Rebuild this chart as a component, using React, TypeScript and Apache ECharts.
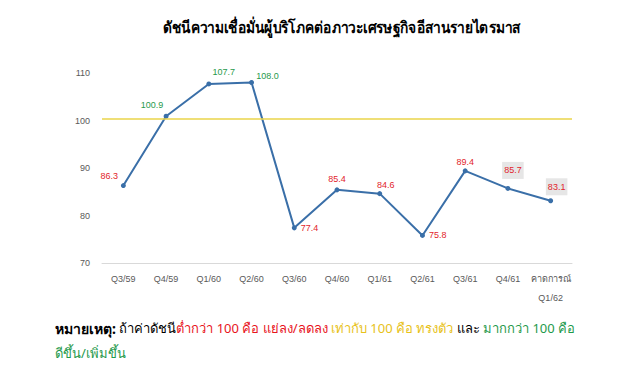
import React, { useEffect, useRef } from "react";
import * as echarts from "echarts";

const categories = ["Q3/59", "Q4/59", "Q1/60", "Q2/60", "Q3/60", "Q4/60", "Q1/61", "Q2/61", "Q3/61", "Q4/61", "คาดการณ์\nQ1/62"];
const values = [86.3, 100.9, 107.7, 108.0, 77.4, 85.4, 84.6, 75.8, 89.4, 85.7, 83.1];
const labelOffsets: [string, number, number][] = [
  ["top", -14, 1], ["top", -14, 0], ["top", 15, -1], ["top", 16, 4], ["right", 0, 0],
  ["top", 0, 0], ["top", 6, 2], ["right", 0, 0], ["top", 0, 2], ["top", 5, -3], ["top", 6, 1],
];
const boxed = [false, false, false, false, false, false, false, false, false, true, true];
const yTicks = [70, 80, 90, 100, 110];

export default function App() {
  const ref = useRef<HTMLDivElement>(null);
  useEffect(() => {
    const chart = echarts.init(ref.current!, null, { renderer: "svg" });
    const data = values.map((v, i) => ({
      value: v,
      label: {
        show: true,
        position: labelOffsets[i][0],
        offset: [labelOffsets[i][1], labelOffsets[i][2]],
        distance: 4,
        color: v > 100 ? "#1f9a4c" : "#e2242b",
        fontSize: 9,
        fontFamily: "Liberation Sans, Arial",
        formatter: v.toFixed(1),
        backgroundColor: boxed[i] ? "#e6e6e6" : "transparent",
        padding: boxed[i] ? [4, 2, 4, 2] : 0,
      },
    }));
    chart.setOption({
      animation: false,
      backgroundColor: "#ffffff",
      grid: { left: 102, right: 72, top: 73, bottom: 120 },
      xAxis: {
        type: "category",
        data: categories,
        boundaryGap: true,
        axisLine: { lineStyle: { color: "#d9d9d9" } },
        axisTick: { show: false },
        axisLabel: { interval: 0, color: "#595959", fontSize: 9, fontFamily: "Liberation Sans, Arial", margin: 6, lineHeight: 19 },
      },
      yAxis: {
        type: "value",
        min: yTicks[0],
        max: yTicks[yTicks.length - 1],
        interval: 10,
        axisLine: { show: false },
        axisTick: { show: false },
        splitLine: { show: false },
        axisLabel: { color: "#595959", fontSize: 9, fontFamily: "Liberation Sans, Arial", margin: 12 },
      },
      series: [
        {
          type: "line",
          data,
          symbol: "circle",
          symbolSize: 5,
          itemStyle: { color: "#3a6fa8" },
          lineStyle: { color: "#3a6fa8", width: 2 },
          markLine: {
            silent: true,
            symbol: "none",
            label: { show: false },
            lineStyle: { color: "#ead44a", type: "solid", width: 1.5 },
            data: [{ yAxis: 100.3 }],
          },
        },
      ],
      graphic: [
        {
          type: "text",
          x: 163,
          y: 19,
          scaleX: 0.86,
          style: {
            text: "ดัชนีความเชื่อมั่นผู้บริโภคต่อภาวะเศรษฐกิจอีสานรายไตรมาส",
            fill: "#000",
            font: "bold 16px 'Noto Sans', 'DejaVu Sans', sans-serif",
          },
        },
        {
          type: "text",
          x: 55,
          y: 321,
          style: {
            text: "{b|หมายเหตุ:} {k|ถ้าค่าดัชนี}{r|ต่ำกว่า 100 คือ แย่ลง/ลดลง} {y|เท่ากับ 100 คือ ทรงตัว} {k|และ} {g|มากกว่า 100 คือ}",
            rich: {
              b: { fill: "#000", fontSize: 14, fontWeight: "bold", fontFamily: "Noto Sans, sans-serif" },
              k: { fill: "#000", fontSize: 13, fontFamily: "Noto Sans, sans-serif" },
              r: { fill: "#e8141c", fontSize: 13, fontFamily: "Noto Sans, sans-serif" },
              y: { fill: "#e8c21a", fontSize: 13, fontFamily: "Noto Sans, sans-serif" },
              g: { fill: "#1f9a4c", fontSize: 13, fontFamily: "Noto Sans, sans-serif" },
            },
          },
        },
        {
          type: "text",
          x: 55,
          y: 346,
          style: {
            text: "ดีขึ้น/เพิ่มขึ้น",
            fill: "#1f9a4c",
            font: "13px 'Noto Sans', sans-serif",
          },
        },
      ],
    });
    return () => chart.dispose();
  }, []);
  return <div ref={ref} style={{ width: 644, height: 383, position: "absolute", left: 0, top: 0 }} />;
}
